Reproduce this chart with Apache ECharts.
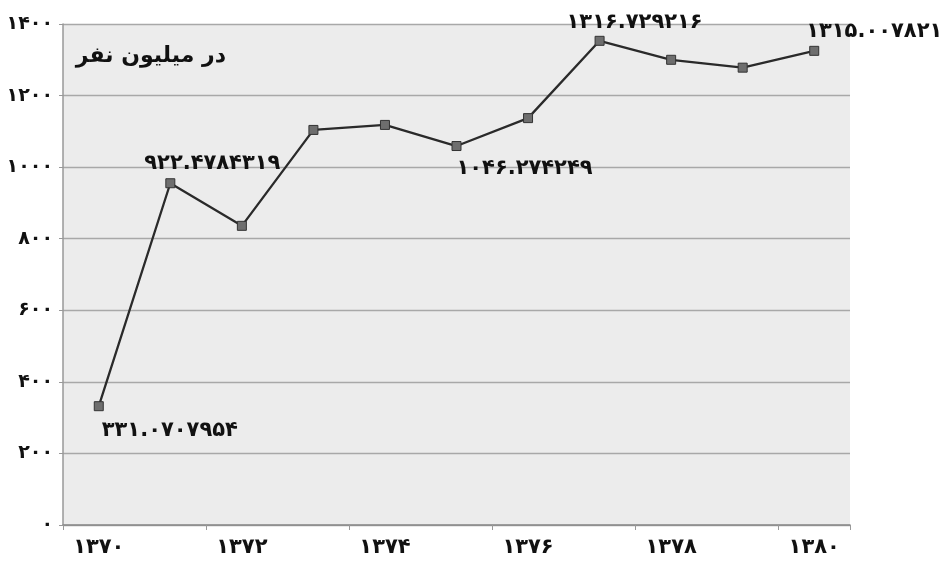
<!DOCTYPE html>
<html>
<head>
<meta charset="utf-8">
<script src="https://cdn.jsdelivr.net/npm/echarts@6/dist/echarts.min.js"></script>
<style>
  html, body { margin: 0; padding: 0; background: #fff; }
  #chart { width: 949px; height: 563px; }
</style>
</head>
<body>
<div id="chart"></div>
<script>
// سال‌ها و مقادیر (میلیون نفر)
var years = ["۱۳۷۰", "۱۳۷۱", "۱۳۷۲", "۱۳۷۳", "۱۳۷۴", "۱۳۷۵", "۱۳۷۶", "۱۳۷۷", "۱۳۷۸", "۱۳۷۹", "۱۳۸۰"];
var values = [332, 955, 836, 1104, 1118, 1059, 1137, 1353, 1300, 1278, 1325];
// برچسب‌های نوشته شده روی نمودار
var pointNotes = ["۳۳۱.۰۷۰۷۹۵۴", "۹۲۲.۴۷۸۴۳۱۹", "", "", "", "۱۰۴۶.۲۷۴۲۴۹", "", "۱۳۱۶.۷۲۹۲۱۶", "", "", "۱۳۱۵.۰۰۷۸۲۱"];
var yTicks = [0, 200, 400, 600, 800, 1000, 1200, 1400];
var unitTitle = "در میلیون نفر";

var faDigits = "۰۱۲۳۴۵۶۷۸۹";
function toFa(n) {
  return String(n).replace(/[0-9]/g, function (d) { return faDigits[+d]; });
}

// جای برچسب هر نقطه
var noteOffsets = {
  0: [71, 24],
  1: [42, -20],
  5: [68, 23],
  7: [35, -18],
  10: [60, -19]
};

var seriesData = values.map(function (v, i) {
  var item = { value: v };
  if (pointNotes[i]) {
    item.label = {
      show: true,
      position: "inside",
      offset: noteOffsets[i],
      formatter: pointNotes[i]
    };
  }
  return item;
});

var myChart = echarts.init(document.getElementById("chart"));
window.onresize = myChart.resize;
myChart.setOption({
  animation: false,
  textStyle: { fontFamily: "DejaVu Sans" },
  grid: {
    left: 63,
    right: 99,
    top: 24,
    bottom: 38,
    show: true,
    backgroundColor: "#ececec",
    borderWidth: 0
  },
  graphic: [{
    type: "text",
    right: 949 - 226,
    top: 45,
    style: {
      text: unitTitle,
      font: "bold 22px 'DejaVu Sans'",
      fill: "#111"
    }
  }],
  xAxis: {
    type: "category",
    data: years,
    boundaryGap: true,
    axisLine: { lineStyle: { color: "#888", width: 1.5 } },
    axisTick: { show: true, alignWithLabel: false, length: 5, lineStyle: { color: "#999" } },
    axisLabel: {
      interval: 1,
      color: "#111",
      fontSize: 21,
      fontWeight: "bold",
      margin: 12
    }
  },
  yAxis: {
    type: "value",
    min: yTicks[0],
    max: yTicks[yTicks.length - 1],
    interval: 200,
    axisLine: { show: true, lineStyle: { color: "#999", width: 1.5 } },
    axisTick: { show: true, length: 4, lineStyle: { color: "#999" } },
    axisLabel: {
      color: "#111",
      fontSize: 19,
      fontWeight: "bold",
      margin: 10,
      formatter: function (v) { return toFa(v); }
    },
    splitLine: { lineStyle: { color: "#a8a8a8", width: 1.3 } }
  },
  series: [{
    type: "line",
    data: seriesData,
    symbol: "rect",
    symbolSize: 9,
    itemStyle: { color: "#6e6e6e", borderColor: "#333", borderWidth: 1 },
    lineStyle: { color: "#2a2a2a", width: 2.3 },
    label: {
      color: "#111",
      fontSize: 21,
      fontWeight: "bold",
      fontFamily: "DejaVu Sans"
    }
  }]
});
</script>
</body>
</html>
